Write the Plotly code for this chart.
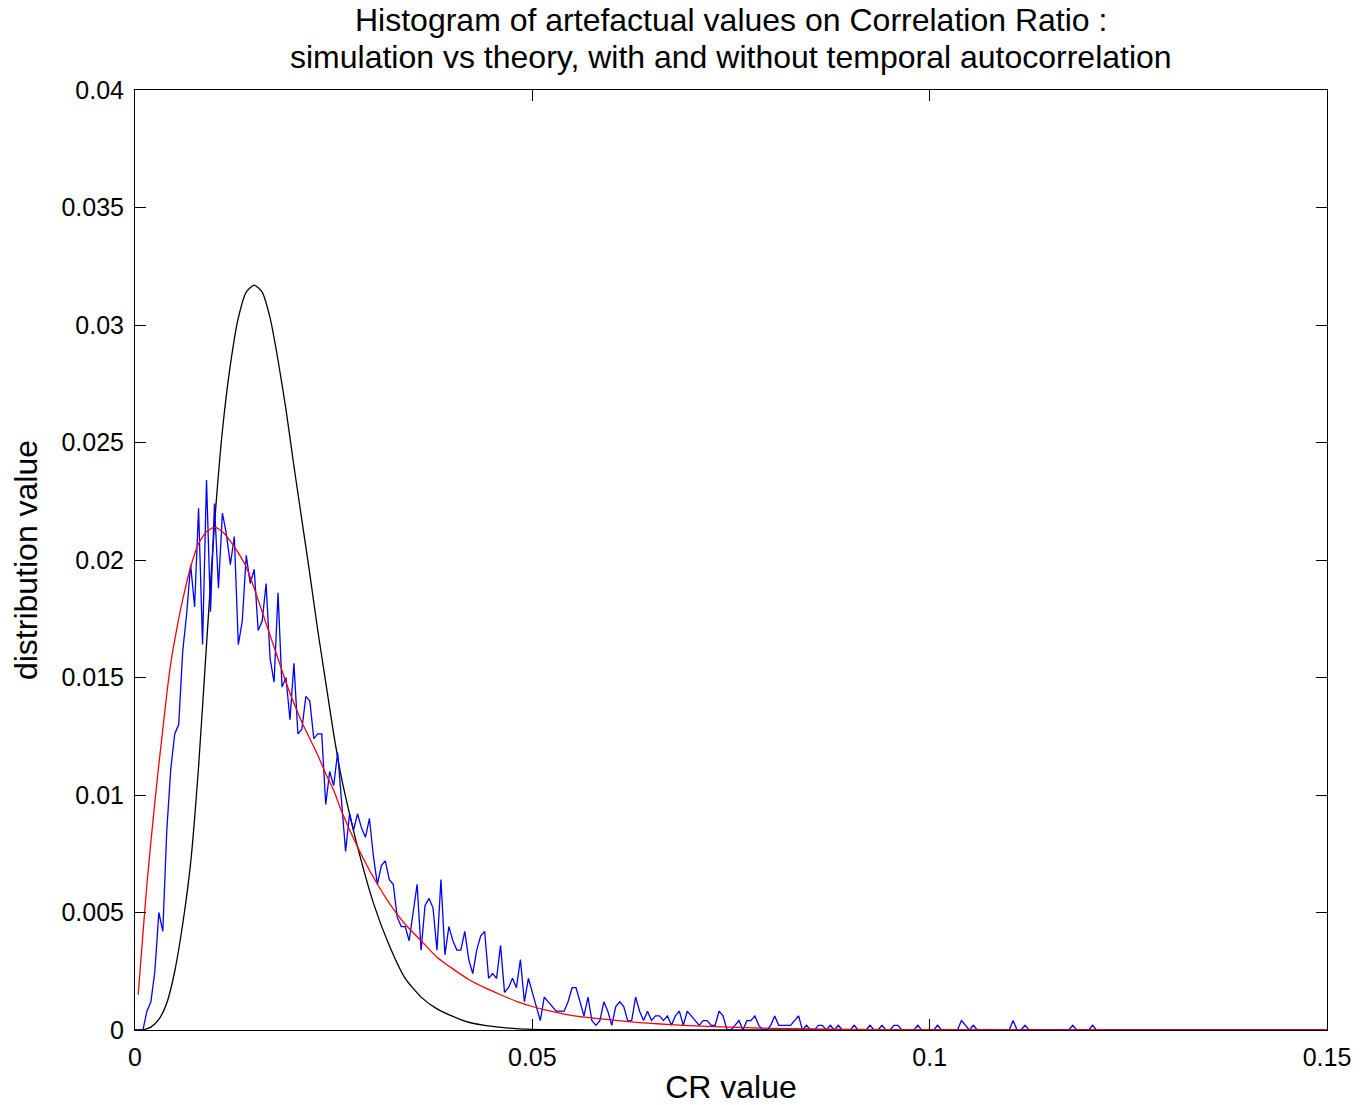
import plotly.graph_objects as go

# ---------------- data ----------------
bin_width = 0.0005

# simulated histogram (blue), one value per bin
sim_hist = [
    0, 0, 0, 0.0008, 0.0012, 0.0025, 0.0050, 0.0042, 0.0085, 0.0111,
    0.0126, 0.0130, 0.0161, 0.0177, 0.0198, 0.0180, 0.0222, 0.0164, 0.0234, 0.0178,
    0.0224, 0.0188, 0.0220, 0.0211, 0.0198, 0.0210, 0.0164, 0.0174, 0.0202, 0.0190,
    0.0196, 0.0170, 0.0174, 0.0190, 0.0158, 0.0148, 0.0186, 0.0146, 0.0150, 0.0132,
    0.0156, 0.0126, 0.0128, 0.0142, 0.0140, 0.0124, 0.0126, 0.0126, 0.0096, 0.0110,
    0.0104, 0.0118, 0.0096, 0.0076, 0.0092, 0.0085, 0.0092, 0.0086, 0.0082, 0.0090,
    0.0074, 0.0062, 0.0070, 0.0072, 0.0064, 0.0062, 0.0048, 0.0044, 0.0044, 0.0038,
    0.0050, 0.0062, 0.0034, 0.0053, 0.0056, 0.0052, 0.0034, 0.0064, 0.0032, 0.0044,
    0.0038, 0.0034, 0.0034, 0.0042, 0.0030, 0.0024, 0.0034, 0.0040, 0.0042, 0.0022,
    0.0024, 0.0022, 0.0036, 0.0016, 0.0018, 0.0022, 0.0018, 0.0030, 0.0012, 0.0022,
    0.0016, 0.0010, 0.0004, 0.0014, 0.0012, 0.0010, 0.0008, 0.0008, 0.0008, 0.0012,
    0.0018, 0.0018, 0.0012, 0.0006, 0.0014, 0.0004, 0.0002, 0.0004, 0.0012, 0.0008,
    0.0002, 0.0010, 0.0012, 0.0010, 0.0004, 0.0004, 0.0014, 0.0008, 0.0004, 0.0008,
    0.0004, 0.0006, 0.0006, 0.0004, 0.0006, 0.0002, 0.0006, 0.0008, 0.0002, 0.0008,
    0.0006, 0.0004, 0.0002, 0.0004, 0.0004, 0.0002, 0.0002, 0.0008, 0.0006, 0,
    0, 0.0002, 0.0004, 0, 0.0004, 0.0004, 0.0006, 0.0002, 0, 0,
    0.0002, 0.0006, 0.0002, 0.0002, 0.0002, 0.0002, 0.0004, 0.0006, 0, 0.0002,
    0, 0, 0.0002, 0.0002, 0, 0.0002, 0, 0.0002, 0, 0,
    0, 0.0002, 0, 0, 0, 0.0002, 0, 0, 0.0002, 0,
    0, 0.0002, 0.0002, 0, 0, 0, 0, 0.0002, 0, 0,
    0, 0, 0.0002, 0, 0, 0, 0, 0, 0.0004, 0.0002,
    0, 0.0002, 0, 0, 0, 0, 0, 0, 0, 0,
    0, 0.0004, 0, 0, 0.0002, 0, 0, 0, 0, 0,
    0, 0, 0, 0, 0, 0, 0.0002, 0, 0, 0,
    0, 0.0002, 0, 0, 0, 0, 0, 0, 0, 0,
    0, 0, 0, 0, 0, 0, 0, 0, 0, 0,
    0, 0, 0, 0, 0, 0, 0, 0, 0, 0,
    0, 0, 0, 0, 0, 0, 0, 0, 0, 0,
    0, 0, 0, 0, 0, 0, 0, 0, 0, 0,
    0, 0, 0, 0, 0, 0, 0, 0, 0, 0,
    0,
]
sim_cr = [i * bin_width for i in range(len(sim_hist))]

# theory without temporal autocorrelation (black)
theo_cr = [0, 0.001, 0.002, 0.003, 0.004, 0.005, 0.006, 0.007, 0.008, 0.009,
           0.010, 0.011, 0.012, 0.013, 0.014, 0.015, 0.016, 0.017, 0.018, 0.019,
           0.020, 0.021, 0.022, 0.023, 0.024, 0.025, 0.026, 0.027, 0.028, 0.030,
           0.032, 0.034, 0.036, 0.038, 0.040, 0.042, 0.044, 0.047, 0.050, 0.055,
           0.060, 0.080, 0.100, 0.150]
theo_val = [0, 0.00001, 0.00012, 0.00045, 0.00115, 0.0025, 0.0045, 0.0071, 0.0112, 0.0164,
            0.0215, 0.0255, 0.0283, 0.0303, 0.0314, 0.0317, 0.0314, 0.0303, 0.0285, 0.0264,
            0.0240, 0.0217, 0.0194, 0.0170, 0.0148, 0.0126, 0.0107, 0.0092, 0.0078, 0.0054,
            0.0036, 0.0022, 0.0014, 0.0009, 0.00058, 0.00033, 0.0002, 0.00008, 0.00003, 0.00001,
            0, 0, 0, 0]

# theory with temporal autocorrelation (red)
auto_cr = [0.0004, 0.001, 0.0015, 0.002, 0.0025, 0.003, 0.0035, 0.004, 0.0045, 0.005,
           0.0055, 0.006, 0.007, 0.008, 0.009, 0.010, 0.011, 0.012, 0.013, 0.014,
           0.015, 0.016, 0.017, 0.018, 0.019, 0.020, 0.021, 0.022, 0.023, 0.024,
           0.025, 0.026, 0.028, 0.030, 0.032, 0.034, 0.036, 0.038, 0.040, 0.042,
           0.044, 0.046, 0.048, 0.050, 0.052, 0.054, 0.056, 0.060, 0.064, 0.069,
           0.075, 0.080, 0.090, 0.100, 0.120, 0.150]
auto_val = [0.0015, 0.0041, 0.0062, 0.0080, 0.0097, 0.0113, 0.0128, 0.0143, 0.0156, 0.0166,
            0.0175, 0.0183, 0.0197, 0.0207, 0.0212, 0.0214, 0.0212, 0.0208, 0.0203, 0.0197,
            0.0188, 0.0178, 0.0168, 0.0158, 0.0148, 0.0139, 0.0131, 0.0124, 0.0117, 0.0109,
            0.0102, 0.0093, 0.0078, 0.0065, 0.0054, 0.0045, 0.0038, 0.0031, 0.0026, 0.00215,
            0.0018, 0.0015, 0.00122, 0.0010, 0.00082, 0.00068, 0.00057, 0.00043, 0.0003, 0.0002,
            0.00012, 0.00007, 0.00003, 0.00001, 0, 0]

x_tickvals = [0, 0.05, 0.1, 0.15]
x_ticktext = ["0", "0.05", "0.1", "0.15"]
y_tickvals = [0, 0.005, 0.01, 0.015, 0.02, 0.025, 0.03, 0.035, 0.04]
y_ticktext = ["0", "0.005", "0.01", "0.015", "0.02", "0.025", "0.03", "0.035", "0.04"]

title_lines = ["Histogram of artefactual values on Correlation Ratio :",
               "simulation vs theory, with and without temporal autocorrelation"]

# ---------------- figure ----------------
FONT = "Liberation Sans, Arial, Helvetica, sans-serif"

fig = go.Figure()
fig.add_trace(go.Scatter(x=theo_cr, y=theo_val, mode="lines",
                         line=dict(color="#000000", width=1.3, shape="spline", smoothing=0.6),
                         name="theory"))
fig.add_trace(go.Scatter(x=sim_cr, y=sim_hist, mode="lines",
                         line=dict(color="#0000ff", width=1.3),
                         name="simulation"))
fig.add_trace(go.Scatter(x=auto_cr, y=auto_val, mode="lines",
                         line=dict(color="#ff0000", width=1.3, shape="spline", smoothing=0.6),
                         name="theory with autocorrelation"))

axis_common = dict(
    showline=True, linecolor="black", linewidth=1, mirror="ticks",
    ticks="inside", ticklen=11, tickwidth=1, tickcolor="black",
    showgrid=False, zeroline=False, ticklabelstandoff=5, automargin=False,
    tickfont=dict(family=FONT, size=25, color="black"),
)

title_annotations = [
    dict(text=line, xref="paper", yref="paper", x=0.5, y=1,
         xanchor="center", yanchor="middle", yshift=shift,
         showarrow=False, font=dict(family=FONT, size=32, color="black"))
    for line, shift in zip(title_lines, [70, 33])
]

fig.update_layout(
    width=1369, height=1105,
    margin=dict(l=135, r=42, t=90, b=75),
    paper_bgcolor="white", plot_bgcolor="white",
    showlegend=False,
    xaxis=dict(range=[0, 0.15], tickvals=x_tickvals, ticktext=x_ticktext,
               title=dict(text="CR value", font=dict(family=FONT, size=32, color="black"),
                          standoff=6),
               **axis_common),
    yaxis=dict(range=[0, 0.04], tickvals=y_tickvals, ticktext=y_ticktext,
               title=dict(text="distribution value", font=dict(family=FONT, size=32, color="black"),
                          standoff=14),
               **axis_common),
    annotations=title_annotations,
)

fig.write_html("out.html")
